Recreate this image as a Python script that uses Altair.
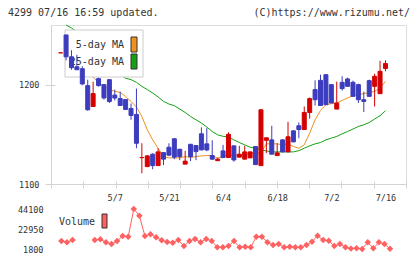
import json
import altair as alt
import pandas as pd

# ---- data -------------------------------------------------------------
dates = ["4/18", "4/21", "4/22", "4/23", "4/24", "4/25", "4/28", "4/30", "5/1", "5/2",
         "5/7", "5/8", "5/9", "5/12", "5/13", "5/14", "5/15", "5/16", "5/19", "5/20",
         "5/21", "5/22", "5/23", "5/26", "5/27", "5/28", "5/29", "5/30", "6/2", "6/3",
         "6/4", "6/5", "6/6", "6/9", "6/10", "6/11", "6/12", "6/13", "6/16", "6/17",
         "6/18", "6/19", "6/20", "6/23", "6/24", "6/25", "6/26", "6/27", "6/30", "7/1",
         "7/2", "7/3", "7/4", "7/7", "7/8", "7/9", "7/10", "7/11", "7/14", "7/15", "7/16"]
labeled_dates = ["5/7", "5/21", "6/4", "6/18", "7/2", "7/16"]

opens = [1232, 1250, 1228, 1218, 1216, 1199, 1178, 1206, 1200, 1205,
         1189.5, 1186, 1185, 1176, 1170, 1126.6, 1117.5, 1130, 1118.5, 1131.6,
         1137, 1145.5, 1135, 1120, 1140, 1138.7, 1150.5, 1140.4, 1128.6, 1123.5,
         1133.3, 1126.6, 1138.4, 1127, 1125, 1126.3, 1137.7, 1118.5, 1144, 1144.4,
         1128.6, 1144.4, 1132.3, 1153.5, 1158.6, 1154.8, 1172, 1195, 1204.3, 1210,
         1200, 1175.4, 1202.3, 1205.7, 1202.3, 1200, 1184.8, 1204, 1198.3, 1190.9, 1216.2]
closes = [1232, 1228, 1217, 1215, 1200.7, 1174.7, 1191, 1199, 1186.6, 1183,
          1186.5, 1179, 1175, 1169, 1141, 1126.6, 1128.3, 1118.5, 1132.3, 1125,
          1129, 1127, 1127.6, 1123, 1127.6, 1132.6, 1134.3, 1134.3, 1125, 1125,
          1126.6, 1150, 1124.2, 1130, 1132.3, 1132.3, 1119.5, 1174.7, 1146.5, 1130,
          1131.3, 1132.3, 1147.5, 1142.4, 1154.8, 1172, 1185.9, 1184.8, 1179, 1179.8,
          1181.5, 1181.5, 1196, 1198.3, 1188.2, 1184.8, 1183.1, 1188.2, 1208.4, 1213.4, 1221.2]
highs = [1232, 1250, 1234.6, 1230, 1218.5, 1205, 1203, 1207, 1200, 1205,
         1195, 1193, 1185, 1181, 1196, 1141, 1129, 1131, 1136, 1132,
         1141, 1146, 1135, 1133.3, 1140, 1139, 1157, 1156.3, 1144, 1126.5,
         1139.4, 1152, 1138.4, 1138.4, 1138.4, 1132.3, 1137.7, 1174.7, 1146.5, 1158.6,
         1141, 1145, 1162.6, 1154, 1162, 1178, 1187, 1204.3, 1210, 1210,
         1200, 1203, 1208.4, 1207, 1204, 1201, 1193, 1205, 1211, 1224, 1224.5]
lows = [1232, 1224.5, 1215, 1215, 1199.3, 1173.7, 1178, 1198, 1184.8, 1181.5,
        1184, 1179, 1175, 1164.6, 1136, 1110.8, 1117, 1114.8, 1118.5, 1119,
        1128, 1125, 1124, 1120, 1123, 1124, 1134, 1133, 1124.5, 1123,
        1126, 1126.6, 1122.5, 1127, 1125, 1126.3, 1119.5, 1118.5, 1131, 1130,
        1128.6, 1132, 1132.3, 1142, 1146, 1154.8, 1165.7, 1179, 1179, 1179.8,
        1181.5, 1175.4, 1194, 1198, 1188, 1181.5, 1172.4, 1188, 1178, 1190.9, 1213.4]
volumes = [None, 10260, 8885, 11318, None, None, None, 11318, 12058, 8885,
           7088, 10260, 15548, 14800, 44100, 37015, 15548, 17345, 14170, 11000,
           9200, 8460, 11318, 4970, 10260, 12375, 8885, 12375, 10260, 3600,
           3600, 4970, 10260, 3600, 4235, 3600, 14800, 14800, 8885, 6030,
           7088, 3600, 4235, 3600, 3600, 6030, 9520, 15865, 11318, 10577,
           4970, 7088, 3600, 2200, 2540, 1800, 8885, 2540, 8885, 7088, 2000]
ma5 = [None, 1218, 1216, 1214, 1212, 1210, 1207.8, 1201.7, 1198.3, 1195,
       1193.3, 1192.2, 1188, 1183, 1177.5, 1168, 1154.5, 1144.4, 1136, 1127.6,
       1126.3, 1126.3, 1126.3, 1127.6, 1126.6, 1127.6, 1128.3, 1128.6, 1128.6, 1126,
       1127.6, 1129.7, 1128.3, 1129.3, 1129.3, 1131, 1131, 1131.6, 1140.4, 1140.4,
       1140.4, 1139.4, 1140.4, 1137.7, 1136, 1139.4, 1151.2, 1164.6, 1174, 1179.8,
       1180.8, 1181.5, 1184.1, 1186.6, 1188.9, 1189.9, 1190.9, 1192.2, 1193.2, 1196.6, 1203.3]
ma25 = [None, 1260, 1257, 1253, 1248.5, 1244, 1238, 1232, 1226, 1220,
        1215, 1210, 1206.5, 1205, 1202.3, 1198.3, 1195, 1191.6, 1187.6, 1183.1,
        1180.5, 1178.8, 1175.4, 1172, 1168, 1164.6, 1161.3, 1157.3, 1152.8, 1149.5,
        1148, 1147.2, 1144.4, 1141.7, 1139.4, 1137, 1136, 1134.3, 1133.3, 1132.3,
        1132.3, 1132.3, 1132.3, 1132.3, 1133.6, 1136, 1138.4, 1140.4, 1141.7, 1144.4,
        1146.2, 1147.8, 1150.5, 1152.8, 1155.3, 1157.9, 1159.6, 1161.9, 1165.4, 1168.7, 1173.7]

price_ticks = [1100, 1200]
volume_ticks = [1800, 22950, 44100]
legend_labels = ["5-day MA", "25-day MA"]
title_left = "4299 07/16 16:59 updated."
title_right = "(C)https://www.rizumu.net/"
volume_label = "Volume"

# ---- styling ----------------------------------------------------------
FONT = "DejaVu Sans Mono"
TEXT = "#333333"
AXIS = "#d4d4d4"
RED = "#d40000"
BLUE = "#3c3cbe"
ORANGE = "#f0901e"
GREEN = "#14a014"
VOL = "#ff6060"
W, H = 355, 159

n = len(dates)
idx = list(range(n))
candles = pd.DataFrame({"i": idx, "open": opens, "close": closes,
                        "high": highs, "low": lows})
ma5_df = pd.DataFrame({"i": idx, "v": ma5}).dropna()
ma25_df = pd.DataFrame({"i": idx, "v": ma25}).dropna()

# volume segments break where a day has no reading
seg, cur, prev_ok = [], 0, False
for v in volumes:
    if v is None:
        prev_ok = False
        seg.append(None)
        continue
    if not prev_ok:
        cur += 1
    prev_ok = True
    seg.append(cur)
vol_df = pd.DataFrame({"i": idx, "v": volumes, "seg": seg}).dropna()

x_scale = alt.Scale(domain=[-0.86, 62.87], nice=False, zero=False)
y_scale = alt.Scale(domain=[1100, 1260], nice=False, zero=False)

label_pos = [dates.index(d) for d in labeled_dates]
x_axis = alt.Axis(orient="bottom", values=label_pos,
                  labelExpr=f"{json.dumps(dates)}[datum.value]",
                  domain=True, domainColor=AXIS, ticks=False, tickSize=0,
                  labelPadding=9, labelFont=FONT, labelFontSize=8.5,
                  labelColor=TEXT, labelFlush=False, grid=False, title=None)
y_axis = alt.Axis(orient="left", domain=True, domainColor=AXIS, ticks=False,
                  labels=False, grid=False, title=None)

X = alt.X("i:Q", scale=x_scale, axis=x_axis)


def Y(field):
    return alt.Y(f"{field}:Q", scale=y_scale, axis=y_axis)


up = alt.datum.close >= alt.datum.open
candle_color = alt.when(up).then(alt.value(RED)).otherwise(alt.value(BLUE))

ma5_line = alt.Chart(ma5_df).mark_line(color=ORANGE, strokeWidth=1).encode(x=X, y=Y("v"))
ma25_line = alt.Chart(ma25_df).mark_line(color=GREEN, strokeWidth=1).encode(x=X, y=Y("v"))

legend_df = pd.DataFrame({"label": legend_labels})
legend_box = alt.Chart(legend_df.head(1)).mark_rect(
    fill="white", stroke="#cccccc", strokeWidth=1
).encode(x=alt.value(14), x2=alt.value(92), y=alt.value(5), y2=alt.value(52))
legend_marks = []
for k, (lab, col) in enumerate(zip(legend_labels, [ORANGE, GREEN])):
    row = pd.DataFrame({"label": [lab]})
    legend_marks.append(
        alt.Chart(row).mark_text(font=FONT, fontSize=10, color=TEXT, align="right",
                                 baseline="middle")
        .encode(text="label:N", x=alt.value(73), y=alt.value(20 + 17 * k)))
    legend_marks.append(
        alt.Chart(row).mark_rect(fill=col, stroke="#333333", strokeWidth=1)
        .encode(x=alt.value(80), x2=alt.value(86), y=alt.value(12 + 17 * k),
                y2=alt.value(27 + 17 * k)))

wicks = alt.Chart(candles).mark_rule(strokeWidth=1).encode(
    x=X, y=Y("low"), y2="high:Q", stroke=candle_color)
bodies = alt.Chart(candles).mark_bar(size=4, strokeWidth=1).encode(
    x=X, y=Y("open"), y2="close:Q", fill=candle_color, stroke=candle_color)

price = alt.layer(ma5_line, ma25_line, legend_box, *legend_marks, wicks, bodies)

price_tick_axis = alt.Chart(pd.DataFrame({"v": price_ticks})).mark_point(opacity=0).encode(
    y=alt.Y("v:Q", scale=y_scale,
            axis=alt.Axis(orient="left", values=price_ticks, format="d", offset=-4,
                          domain=False, ticks=True, tickSize=10, tickColor=AXIS,
                          labelPadding=6, labelFont=FONT, labelFontSize=8.5,
                          labelColor=TEXT, grid=False, title=None)))

top = alt.layer(price, price_tick_axis).resolve_axis(y="independent")

# evenly spaced ticks along the date axis
x_ticks = pd.DataFrame({"t": list(range(12))})
x_tick_layer = alt.Chart(x_ticks).mark_point(opacity=0).encode(
    x=alt.X("t:Q", scale=alt.Scale(domain=[0, 11], nice=False, zero=False),
            axis=alt.Axis(orient="bottom", values=list(range(12)), offset=-3,
                          domain=False, ticks=True, tickSize=7, tickColor=AXIS,
                          labels=False, grid=False, title=None)))

# volume panel below the dates
vol_scale = alt.Scale(domain=[volume_ticks[0], volume_ticks[-1]], range=[224, 184],
                      nice=False, zero=False)
VX = alt.X("i:Q", scale=x_scale, axis=None)
VY = alt.Y("v:Q", scale=vol_scale,
           axis=alt.Axis(orient="left", values=volume_ticks, format="d", domain=False,
                         ticks=False, tickSize=0, labelPadding=8, labelFont=FONT,
                         labelFontSize=8.5, labelColor=TEXT, grid=False, title=None))
vol_line = alt.Chart(vol_df).mark_line(color=VOL, strokeWidth=1).encode(
    x=VX, y=VY, detail="seg:N")
vol_pts = alt.Chart(vol_df).mark_point(shape="diamond", filled=True, size=42,
                                       color=VOL, opacity=1).encode(x=VX, y=VY)
vol_text = alt.Chart(pd.DataFrame({"label": [volume_label]})).mark_text(
    font=FONT, fontSize=10, color=TEXT, align="left", baseline="middle"
).encode(text="label:N", x=alt.value(8), y=alt.value(197))
vol_swatch = alt.Chart(pd.DataFrame({"label": [volume_label]})).mark_rect(
    fill=VOL, stroke="#333333", strokeWidth=1
).encode(x=alt.value(51), x2=alt.value(56), y=alt.value(189), y2=alt.value(203))
volume = alt.layer(vol_line, vol_pts, vol_text, vol_swatch)

header = pd.DataFrame({"label": [title_left]})
header_r = pd.DataFrame({"label": [title_right]})
head_l = alt.Chart(header).mark_text(font=FONT, fontSize=10, color=TEXT, align="left",
                                     baseline="middle").encode(
    text="label:N", x=alt.value(-43), y=alt.value(-12.5))
head_r = alt.Chart(header_r).mark_text(font=FONT, fontSize=10, color=TEXT, align="right",
                                       baseline="middle").encode(
    text="label:N", x=alt.value(359), y=alt.value(-12.5))

chart = alt.layer(top, volume, x_tick_layer, head_l, head_r).resolve_scale(
    x="independent", y="independent"
).properties(
    width=W, height=H,
    padding={"left": 51, "top": 25, "right": 14, "bottom": 75},
    autosize=alt.AutoSizeParams(type="none"),
).configure_view(stroke=None).configure(background="white")

chart.save("out.html", embed_options={"renderer": "svg", "actions": False})
